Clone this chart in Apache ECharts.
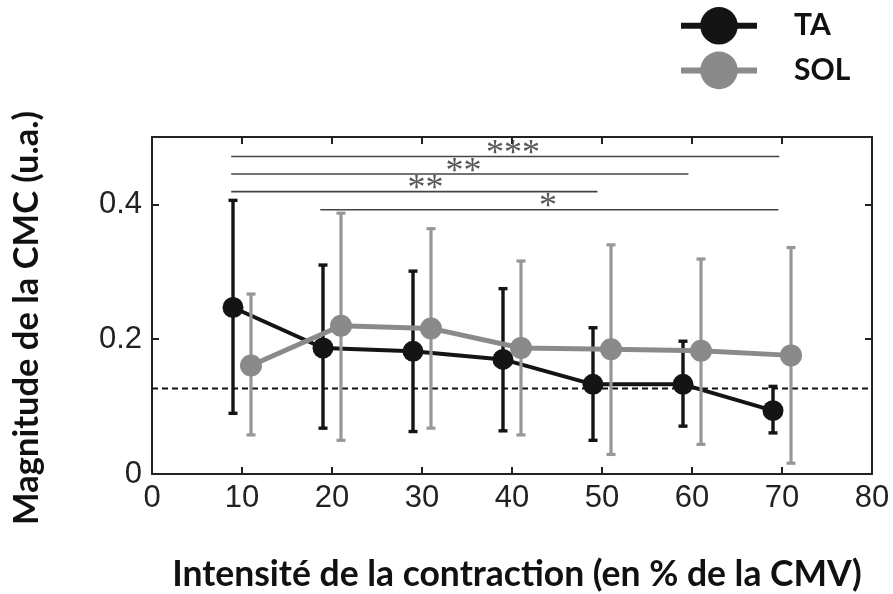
<!DOCTYPE html>
<html><head><meta charset="utf-8">
<script src="https://cdn.jsdelivr.net/npm/echarts@6/dist/echarts.min.js"></script>
<style>html,body{margin:0;padding:0;background:#fff}#c{width:893px;height:594px}</style>
</head><body><div id="c"></div>
<script>
// ---- data ----
const intensities = [10, 20, 30, 40, 50, 60, 70];
const taMean  = [0.247, 0.187, 0.182, 0.170, 0.133, 0.133, 0.094];
const taLow   = [0.090, 0.068, 0.063, 0.064, 0.050, 0.071, 0.061];
const taHigh  = [0.406, 0.310, 0.301, 0.275, 0.217, 0.197, 0.130];
const solMean = [0.161, 0.220, 0.216, 0.187, 0.185, 0.183, 0.176];
const solLow  = [0.058, 0.050, 0.068, 0.058, 0.029, 0.044, 0.016];
const solHigh = [0.267, 0.387, 0.364, 0.316, 0.340, 0.319, 0.336];
const noiseLevel = 0.127;
const sigFrom  = [8.8, 8.8, 8.8, 18.7];
const sigTo    = [69.7, 59.6, 49.5, 69.6];
const sigLevel = [0.471, 0.445, 0.419, 0.392];
const sigText  = ['***', '**', '**', '*'];
const sigTextX = [40.1, 34.6, 30.4, 44.0];
const xTickLabels = ['0', '10', '20', '30', '40', '50', '60', '70', '80'];
const yTickLabels = ['0', '0.2', '0.4'];

// ---- style ----
const TA_OFFSET = -1, SOL_OFFSET = 1;
const TA_COLOR = '#141414', SOL_COLOR = '#8a8a8a', SOL_BAR = '#979797';
const AX = '#222';

function errorBars(name, offset, low, high, color, width, z) {
  return {
    type: 'custom', name: name, z: z,
    data: intensities.map((x, i) => [x + offset, low[i], high[i]]),
    encode: { x: 0, y: [1, 2] },
    renderItem: function (params, api) {
      const x = api.value(0);
      const lo = api.coord([x, api.value(1)]);
      const hi = api.coord([x, api.value(2)]);
      const cw = 4.5;
      const st = { stroke: color, lineWidth: width, fill: null };
      return { type: 'group', children: [
        { type: 'line', shape: { x1: lo[0], y1: lo[1], x2: hi[0], y2: hi[1] }, style: st },
        { type: 'line', shape: { x1: lo[0] - cw, y1: lo[1], x2: lo[0] + cw, y2: lo[1] }, style: st },
        { type: 'line', shape: { x1: hi[0] - cw, y1: hi[1], x2: hi[0] + cw, y2: hi[1] }, style: st }
      ]};
    },
    silent: true
  };
}

const series = [];
// dashed reference level
series.push({
  type: 'line', name: 'ref', data: [[0, noiseLevel], [80, noiseLevel]],
  symbol: 'none', lineStyle: { color: '#111', width: 2, type: [6, 4] }, z: 1, silent: true
});
// significance brackets
sigFrom.forEach((f, i) => {
  series.push({
    type: 'line', name: 'sig' + i, data: [[f, sigLevel[i]], [sigTo[i], sigLevel[i]]],
    symbol: 'none', lineStyle: { color: '#444', width: 1.6 }, z: 1, silent: true
  });
});
series.push({
  type: 'scatter', name: 'stars', symbolSize: 0,
  data: sigText.map((t, i) => ({ value: [sigTextX[i], sigLevel[i]], label: { formatter: t } })),
  label: { show: true, position: 'inside', offset: [0, -2], fontFamily: 'Liberation Serif',
           fontSize: 36, color: '#2e2e2e', verticalAlign: 'middle' },
  z: 2, silent: true
});
series.push(errorBars('taErr', TA_OFFSET, taLow, taHigh, TA_COLOR, 3.4, 3));
series.push({
  type: 'line', name: 'TA', data: intensities.map((x, i) => [x + TA_OFFSET, taMean[i]]),
  symbol: 'circle', symbolSize: 21, itemStyle: { color: TA_COLOR },
  lineStyle: { color: TA_COLOR, width: 4 }, z: 4
});
series.push(errorBars('solErr', SOL_OFFSET, solLow, solHigh, SOL_BAR, 3.2, 5));
series.push({
  type: 'line', name: 'SOL', data: intensities.map((x, i) => [x + SOL_OFFSET, solMean[i]]),
  symbol: 'circle', symbolSize: 22, itemStyle: { color: SOL_COLOR },
  lineStyle: { color: SOL_COLOR, width: 5 }, z: 6
});

const chart = echarts.init(document.getElementById('c'), null, { renderer: 'canvas' });
const axisCommon = {
  axisLine: { show: true, onZero: false, lineStyle: { color: AX, width: 2 } },
  axisTick: { show: true, inside: true, length: 7, lineStyle: { color: AX, width: 2 } },
  splitLine: { show: false }
};
chart.setOption({
  animation: false,
  backgroundColor: '#fff',
  grid: { left: 152, right: 21, top: 137, bottom: 120, containLabel: false },
  legend: {
    data: [{ name: 'TA', lineStyle: { width: 6 } }, { name: 'SOL', lineStyle: { width: 6 } }],
    orient: 'vertical', left: 673, top: 2, itemWidth: 76, itemHeight: 47, itemGap: 7,
    textStyle: { fontFamily: 'Lato', fontWeight: 'bold', fontSize: 30, color: '#111', padding: [0, 0, 0, 32] }
  },
  xAxis: [
    Object.assign({ type: 'value', min: 0, max: 80, interval: 10, position: 'bottom',
      axisLabel: { fontFamily: 'Liberation Sans', fontSize: 31, color: AX, margin: 9,
        formatter: v => xTickLabels[Math.round(v / 10)] } }, axisCommon),
    Object.assign({ type: 'value', min: 0, max: 80, interval: 10, position: 'top',
      axisLabel: { show: false } }, axisCommon)
  ],
  yAxis: [
    Object.assign({ type: 'value', min: 0, max: 0.5, interval: 0.2, position: 'left',
      axisLabel: { fontFamily: 'Liberation Sans', fontSize: 31, color: AX, margin: 10, showMaxLabel: false,
        formatter: v => { const k = Math.round(v / 0.2); return Math.abs(v - k * 0.2) < 1e-6 ? yTickLabels[k] : ''; } } }, axisCommon),
    Object.assign({ type: 'value', min: 0, max: 0.5, interval: 0.2, position: 'right',
      axisLabel: { show: false } }, axisCommon)
  ],
  graphic: [
    { type: 'text', x: 27, y: 318, rotation: Math.PI / 2,
      style: { text: 'Magnitude de la CMC (u.a.)', font: 'bold 34.5px Lato', fill: '#111',
               textAlign: 'center', textVerticalAlign: 'middle', align: 'center', verticalAlign: 'middle' } },
    { type: 'text', x: 517, y: 575,
      style: { text: 'Intensité de la contraction (en % de la CMV)', font: 'bold 35.5px Lato', fill: '#111',
               textAlign: 'center', textVerticalAlign: 'middle', align: 'center', verticalAlign: 'middle' } }
  ],
  series: series
});
</script></body></html>
